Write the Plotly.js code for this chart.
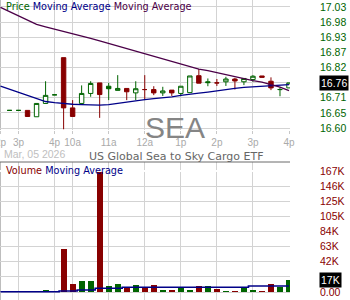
<!DOCTYPE html>
<html><head><meta charset="utf-8">
<script src="https://cdn.plot.ly/plotly-3.0.1.min.js"></script>
<style>html,body{margin:0;padding:0;background:#fff;overflow:hidden}#chart{width:350px;height:300px}</style>
</head><body><div id="chart"></div>
<script>
// ---- data ----
const slot = [1,2,3,4,5,6,7,8,9,10,11,12,13,14,15,16,17,18,19,20,21,22,23,24,25,26,27,28,29,30,31,32];
const openP  = [16.662,16.662,16.662,16.639,16.687,16.718,16.852,16.671,16.687,16.723,16.761,16.749,16.734,16.741,16.725,16.737,16.737,16.725,16.735,16.723,16.726,16.787,16.765,16.761,16.765,16.775,16.765,16.773,16.786,16.767,16.737,16.743];
const highP  = [16.662,16.662,16.662,16.687,16.767,16.718,16.852,16.699,16.752,16.767,16.761,16.761,16.789,16.741,16.767,16.789,16.749,16.747,16.735,16.749,16.786,16.811,16.777,16.775,16.783,16.779,16.777,16.789,16.786,16.781,16.745,16.761];
const lowP   = [16.662,16.662,16.640,16.639,16.687,16.718,16.594,16.640,16.687,16.711,16.635,16.699,16.734,16.699,16.699,16.699,16.717,16.714,16.714,16.713,16.726,16.760,16.749,16.750,16.750,16.737,16.753,16.765,16.781,16.735,16.713,16.743];
const closeP = [16.662,16.662,16.640,16.687,16.716,16.718,16.671,16.640,16.723,16.759,16.719,16.740,16.741,16.729,16.740,16.737,16.725,16.732,16.725,16.749,16.786,16.760,16.762,16.761,16.775,16.768,16.777,16.785,16.781,16.743,16.737,16.761];
const tone = ['g','g','r','g','g','g','r','r','g','g','r','g','g','r','g','r','r','g','r','g','g','r','g','r','g','r','g','g','r','r','g','g'];
const volume = [0,0,0,0,2800,0,59400,11000,15200,15200,166000,8300,11000,6000,9700,6000,9700,2800,2800,6500,2800,8300,8300,4100,1400,1400,6000,2800,1400,11000,7300,16600];

const maSlot = [0,1,2,3,4,5,6,7,8,9,10,11,12,13,14,15,16,17,18,19,20,21,22,23,24,25,26,27,28,29,30,31,32];
const priceMAfast = [16.749,16.738,16.728,16.715,16.704,16.694,16.690,16.686,16.684,16.683,16.681,16.681,16.683,16.688,16.693,16.697,16.701,16.704,16.707,16.711,16.716,16.719,16.724,16.728,16.733,16.737,16.741,16.745,16.747,16.750,16.753,16.754,16.755];
const priceMAslow = [17.033,17.017,17.002,16.986,16.972,16.963,16.955,16.946,16.938,16.929,16.921,16.912,16.903,16.894,16.885,16.876,16.867,16.858,16.848,16.839,16.830,16.821,16.811,16.805,16.798,16.791,16.783,16.775,16.769,16.764,16.755,16.746,16.733];
const volumeMA = [400,400,400,400,400,400,400,1400,1400,2800,2800,5100,5100,5100,6500,6500,6500,6500,6500,6500,6500,6500,6500,6500,6500,6500,6500,6500,8300,8300,8300,8300,8300];

const timeTickSlot = [0,2,6,8,12,16,20,24,28,32];
const timeTickText = ['2p','3p','4p','10a','11a','12a','1p','2p','3p','4p'];
const priceTicks = [16.5985,16.653,16.7075,16.762,16.8165,16.871,16.9255,16.98,17.0345];
const priceTickText = ['16.60','16.65','16.71','16.76','16.82','16.87','16.93','16.98','17.03'];
const volTicks = [0,20900,41800,62700,83600,104500,125400,146300,167200];
const volTickText = ['0.00','','42K','63K','84K','105K','125K','146K','167K'];
const symbol = 'SEA';
const fundName = 'US Global Sea to Sky Cargo ETF';
const dateLabel = 'Mar, 05 2026';

// ---- styling ----
const G = '#006400', R = '#880000', NAVY = '#000088', PURP = '#4b0048';
const GRID = '#d3d3d3';
const SANS = 'Liberation Sans, Arial, sans-serif';
const DV = 'DejaVu Sans, Verdana, sans-serif';

function pick(arr, t){ return arr.filter((_,i)=>tone[i]===t); }
function candle(t, col){
  return {type:'candlestick', xaxis:'x', yaxis:'y',
    x:pick(slot,t), open:pick(openP,t), high:pick(highP,t), low:pick(lowP,t), close:pick(closeP,t),
    increasing:{line:{color:col,width:1}, fillcolor:'#ffffff'},
    decreasing:{line:{color:col,width:1}, fillcolor:col},
    whiskerwidth:0, hoverinfo:'skip'};
}
const traces = [
  {type:'scatter', mode:'lines', x:maSlot, y:priceMAfast, xaxis:'x', yaxis:'y', line:{color:NAVY,width:1.3}, hoverinfo:'skip'},
  {type:'scatter', mode:'lines', x:maSlot, y:priceMAslow, xaxis:'x', yaxis:'y', line:{color:PURP,width:1.3}, hoverinfo:'skip'},
  candle('g', G), candle('r', R),
  {type:'bar', x:slot, y:volume, xaxis:'x2', yaxis:'y2', width:0.67,
   marker:{color:tone.map(t=>t==='g'?G:R), line:{width:0}}, hoverinfo:'skip'},
  {type:'scatter', mode:'lines', x:maSlot, y:volumeMA, xaxis:'x2', yaxis:'y2', line:{color:NAVY,width:1.6,shape:'hvh'}, hoverinfo:'skip'}
];

const W=350, H=300, PW=290;
const pxY = p => 1 - p/H;   // paper y from pixel
const pxX = p => p/PW;      // paper x from pixel
const xRange = [-0.0555, 32.11];
const lastClose = closeP[closeP.length-1];
const lastVol = volume[volume.length-1];

const layout = {
  width:W, height:H, margin:{l:0,r:W-PW,t:0,b:0},
  paper_bgcolor:'#fff', plot_bgcolor:'#fff', showlegend:false, bargap:0,
  xaxis:{domain:[0,1], anchor:'y', range:xRange, tickmode:'array', tickvals:timeTickSlot, ticktext:timeTickText,
    showgrid:true, gridcolor:GRID, gridwidth:1, zeroline:false, showline:false,
    ticks:'outside', ticklen:3, tickcolor:'#c8c8c8', ticklabeloverflow:'allow',
    tickfont:{family:SANS,size:10,color:'#aaaaaa'},
    rangeslider:{visible:false}, fixedrange:true},
  xaxis2:{domain:[0,1], anchor:'y2', range:xRange, tickmode:'array', tickvals:timeTickSlot,
    showticklabels:false, showgrid:true, gridcolor:GRID, gridwidth:1, zeroline:false, showline:false, ticks:'', fixedrange:true},
  yaxis:{domain:[pxY(130),1], anchor:'x', side:'right', range:[16.5913,17.0597], tickmode:'array',
    tickvals:priceTicks, ticktext:priceTickText, showgrid:true, gridcolor:GRID, gridwidth:1, zeroline:false,
    ticks:'', ticklabelstandoff:29, tickfont:{family:SANS,size:10.5,color:G}, fixedrange:true},
  yaxis2:{domain:[0,pxY(162)], anchor:'x2', side:'right', range:[-11055,179636], tickmode:'array',
    tickvals:volTicks, ticktext:volTickText, showgrid:true, gridcolor:GRID, gridwidth:1, zeroline:false,
    ticks:'', ticklabelstandoff:29, tickfont:{family:SANS,size:10.5,color:R}, fixedrange:true},
  shapes:[
    {type:'line', xref:'x2', yref:'y2', x0:xRange[0], x1:xRange[1], y0:volTicks[8], y1:volTicks[8], line:{color:'#ffffff',width:2}, layer:'between'},
    {type:'line', xref:'paper', yref:'paper', x0:0, x1:1, y0:pxY(162), y1:pxY(162), line:{color:'#6a6a6a',width:1}},
    {type:'line', xref:'paper', yref:'paper', x0:pxX(0.5), x1:pxX(0.5), y0:pxY(130), y1:1, line:{color:'#bdbdbd',width:1}, layer:'below'},
    {type:'line', xref:'paper', yref:'paper', x0:pxX(0.5), x1:pxX(0.5), y0:0, y1:pxY(162), line:{color:'#bdbdbd',width:1}, layer:'below'}
  ],
  annotations:[
    {xref:'paper', yref:'paper', x:pxX(4), y:pxY(6.5), xanchor:'left', yanchor:'middle', showarrow:false,
     text:'<span style="color:'+G+'">Price</span> <span style="color:'+NAVY+'">Moving Average</span> <span style="color:'+PURP+'">Moving Average</span>',
     font:{family:DV,size:9.7,color:G}},
    {xref:'paper', yref:'paper', x:pxX(4), y:pxY(171), xanchor:'left', yanchor:'middle', showarrow:false,
     text:'<span style="color:'+R+'">Volume</span> <span style="color:'+NAVY+'">Moving Average</span>',
     font:{family:DV,size:9.7,color:R}},
    {xref:'paper', yref:'paper', x:pxX(175), y:pxY(127.5), xanchor:'center', yanchor:'middle', showarrow:false,
     text:symbol, font:{family:SANS,size:30,color:'#858585'}},
    {xref:'paper', yref:'paper', x:pxX(2), y:pxY(154), xanchor:'left', yanchor:'middle', showarrow:false,
     text:dateLabel, font:{family:SANS,size:10.5,color:'#c0c0c0'}},
    {xref:'paper', yref:'paper', x:pxX(176), y:pxY(156.5), xanchor:'center', yanchor:'middle', showarrow:false,
     text:fundName, font:{family:DV,size:11,color:'#666666'}},
    {xref:'paper', yref:'y', x:pxX(319), y:lastClose, xanchor:'left', yanchor:'middle', showarrow:false,
     text:lastClose.toFixed(2), bgcolor:'#000000', borderpad:1, font:{family:SANS,size:10.5,color:'#ffffff'}},
    {xref:'paper', yref:'y2', x:pxX(319), y:lastVol, xanchor:'left', yanchor:'middle', showarrow:false,
     text:Math.round(lastVol/1000)+'K', bgcolor:'#000000', borderpad:1, font:{family:SANS,size:10.5,color:'#ffffff'}}
  ]
};
Plotly.newPlot('chart', traces, layout, {staticPlot:true, displayModeBar:false});
</script></body></html>
